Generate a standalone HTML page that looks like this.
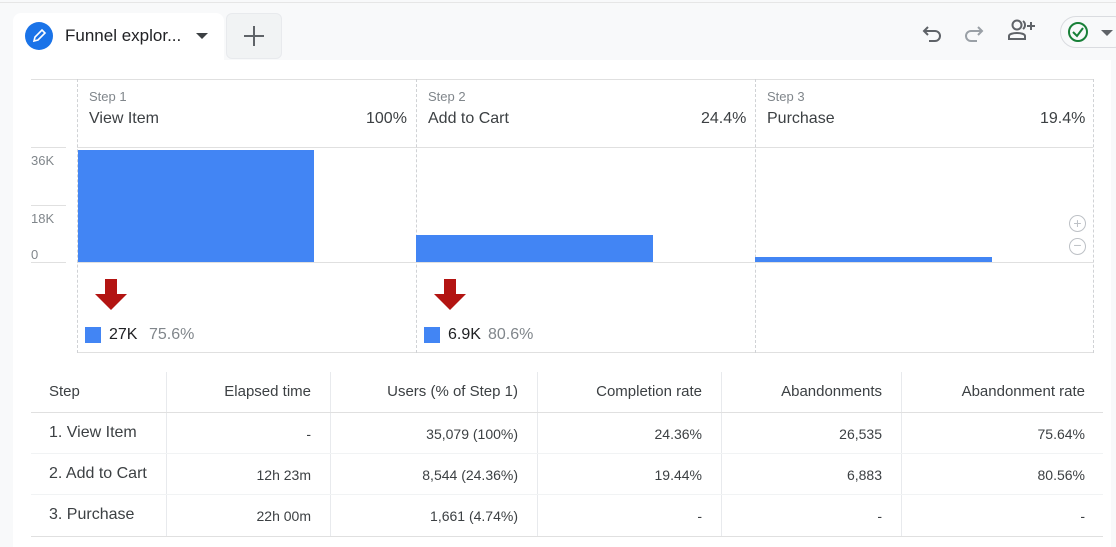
<!DOCTYPE html>
<html><head><meta charset="utf-8"><style>
*{margin:0;padding:0;box-sizing:border-box}
body{width:1116px;height:547px;background:#f8f9fa;font-family:"Liberation Sans",Roboto,sans-serif;position:relative;overflow:hidden;color:#202124}
.a{position:absolute}
.t{font-size:16px;color:#3c4043;white-space:nowrap}
.g{color:#80868b}
.vd{position:absolute;width:0;border-left:1px dashed #d0d2d5}
.h{position:absolute;height:0;border-top:1px solid #e0e0e0}
.cell{position:absolute;font-size:15px;color:#3c4043;white-space:nowrap}
.vl{position:absolute;width:1px;background:#e8eaed}
</style></head><body>
<div class="a" style="left:0;top:2px;width:1116px;height:1px;background:#e6e6e6"></div>
<!-- tab -->
<div class="a" style="left:13px;top:13px;width:211px;height:50px;background:#fff;border-radius:8px 8px 0 0"></div>
<div class="a" style="left:25px;top:22px;width:28px;height:28px;border-radius:50%;background:#1a73e8"></div>
<svg class="a" style="left:30px;top:27px" width="18" height="18" viewBox="0 0 18 18"><path d="M4 14 L5 10 L12 3 L15 6 L8 13 Z" fill="none" stroke="#fff" stroke-width="1.6"/></svg>
<div class="a t" style="left:65px;top:26px;font-size:17px;color:#202124">Funnel explor...</div>
<div class="a" style="left:196px;top:33px;border-left:6px solid transparent;border-right:6px solid transparent;border-top:6px solid #3c4043"></div>
<div class="a" style="left:226px;top:13px;width:56px;height:46px;background:#f1f3f4;border-radius:6px;border:1px solid #e8eaed"></div>
<div class="a" style="left:244px;top:35px;width:20px;height:2px;background:#5f6368"></div>
<div class="a" style="left:253px;top:26px;width:2px;height:20px;background:#5f6368"></div>
<!-- right icons -->
<svg class="a" style="left:922px;top:22px" width="22" height="22" viewBox="0 0 22 22"><path d="M6 5 L2 9 L6 13 M2 9 H13 A5 5 0 0 1 13 19 H7" fill="none" stroke="#5f6368" stroke-width="2"/></svg>
<svg class="a" style="left:962px;top:22px" width="22" height="22" viewBox="0 0 22 22"><path d="M16 5 L20 9 L16 13 M20 9 H9 A5 5 0 0 0 9 19 H15" fill="none" stroke="#9aa0a6" stroke-width="2"/></svg>
<svg class="a" style="left:1007px;top:18px" width="30" height="24" viewBox="0 0 30 24"><circle cx="10" cy="7" r="4.5" fill="none" stroke="#5f6368" stroke-width="2"/><path d="M2 21 V18 C2 14 18 14 18 18 V21 Z" fill="none" stroke="#5f6368" stroke-width="2"/><path d="M16 3 A5 5 0 0 1 16 11" fill="none" stroke="#5f6368" stroke-width="2"/><path d="M24 4 V12 M20 8 H28" stroke="#5f6368" stroke-width="2"/></svg>
<div class="a" style="left:1060px;top:16px;width:70px;height:32px;border-radius:16px;border:1px solid #dadce0;background:#f8f9fa"></div>
<div class="a" style="left:1068px;top:22px;width:20px;height:20px;border-radius:50%;border:2px solid #188038"></div>
<svg class="a" style="left:1068px;top:22px" width="20" height="20"><path d="M5 10 L9 14 L15 6" fill="none" stroke="#188038" stroke-width="2"/></svg>
<div class="a" style="left:1101px;top:30px;border-left:6px solid transparent;border-right:6px solid transparent;border-top:6px solid #5f6368"></div>
<!-- panel -->
<div class="a" style="left:13px;top:60px;width:1098px;height:487px;background:#fff"></div>
<!-- chart lines -->
<div class="h" style="left:31px;top:79px;width:1062px"></div>
<div class="h" style="left:77px;top:147px;width:1016px"></div>
<div class="h" style="left:31px;top:147px;width:35px"></div>
<div class="h" style="left:31px;top:205px;width:35px"></div>
<div class="h" style="left:31px;top:262px;width:35px"></div>
<div class="h" style="left:77px;top:262px;width:1016px"></div>
<div class="h" style="left:77px;top:352px;width:1016px"></div>
<div class="vd" style="left:77px;top:79px;height:274px"></div>
<div class="vd" style="left:416px;top:79px;height:274px"></div>
<div class="vd" style="left:755px;top:79px;height:274px"></div>
<div class="vd" style="left:1093px;top:79px;height:274px"></div>
<div class="a g" style="left:31px;top:153px;font-size:13px">36K</div>
<div class="a g" style="left:31px;top:211px;font-size:13px">18K</div>
<div class="a g" style="left:31px;top:247px;font-size:13px">0</div>
<!-- headers -->
<div class="a g" style="left:89px;top:89px;font-size:13px">Step 1</div>
<div class="a t" style="left:89px;top:110px">View Item</div>
<div class="a t" style="left:366px;top:110px">100%</div>
<div class="a g" style="left:428px;top:89px;font-size:13px">Step 2</div>
<div class="a t" style="left:428px;top:110px">Add to Cart</div>
<div class="a t" style="left:701px;top:110px">24.4%</div>
<div class="a g" style="left:767px;top:89px;font-size:13px">Step 3</div>
<div class="a t" style="left:767px;top:110px">Purchase</div>
<div class="a t" style="left:1040px;top:110px">19.4%</div>
<!-- bars -->
<div class="a" style="left:78px;top:150px;width:236px;height:112px;background:#4285f4"></div>
<div class="a" style="left:416px;top:235px;width:237px;height:27px;background:#4285f4"></div>
<div class="a" style="left:755px;top:257px;width:237px;height:5px;background:#4285f4"></div>
<!-- zoom icons -->
<div class="a" style="left:1069px;top:215px;width:17px;height:17px;border-radius:50%;border:1.5px solid #bdc1c6;color:#bdc1c6;font-size:14px;line-height:14px;text-align:center">+</div>
<div class="a" style="left:1069px;top:238px;width:17px;height:17px;border-radius:50%;border:1.5px solid #bdc1c6;color:#bdc1c6;font-size:14px;line-height:13px;text-align:center">−</div>
<!-- arrows -->
<svg class="a" style="left:95px;top:279px" width="32" height="32"><path d="M10 0 H22 V15 H32 L16 31 L0 15 H10 Z" fill="#b31412"/></svg>
<svg class="a" style="left:434px;top:279px" width="32" height="32"><path d="M10 0 H22 V15 H32 L16 31 L0 15 H10 Z" fill="#b31412"/></svg>
<div class="a" style="left:85px;top:327px;width:16px;height:16px;background:#4285f4"></div>
<div class="a t" style="left:109px;top:326px;color:#202124">27K</div>
<div class="a t g" style="left:149px;top:326px;color:#80868b">75.6%</div>
<div class="a" style="left:424px;top:327px;width:16px;height:16px;background:#4285f4"></div>
<div class="a t" style="left:448px;top:326px;color:#202124">6.9K</div>
<div class="a t g" style="left:488px;top:326px;color:#80868b">80.6%</div>
<!-- table -->
<div class="vl" style="left:166px;top:372px;height:164px"></div>
<div class="vl" style="left:330px;top:372px;height:164px"></div>
<div class="vl" style="left:537px;top:372px;height:164px"></div>
<div class="vl" style="left:721px;top:372px;height:164px"></div>
<div class="vl" style="left:901px;top:372px;height:164px"></div>
<div class="h" style="left:31px;top:412px;width:1072px"></div>
<div class="h" style="left:31px;top:453px;width:1072px;border-color:#f1f3f4"></div>
<div class="h" style="left:31px;top:494px;width:1072px;border-color:#f1f3f4"></div>
<div class="h" style="left:31px;top:536px;width:1072px"></div>
<div class="cell g" style="left:49px;top:383px">Step</div>
<div class="cell g" style="right:805px;top:383px">Elapsed time</div>
<div class="cell g" style="right:598px;top:383px">Users (% of Step 1)</div>
<div class="cell g" style="right:414px;top:383px">Completion rate</div>
<div class="cell g" style="right:234px;top:383px">Abandonments</div>
<div class="cell g" style="right:31px;top:383px">Abandonment rate</div>

<div class="cell" style="left:49px;top:424px;font-size:16px">1. View Item</div>
<div class="cell" style="right:805px;top:426px;font-size:14px">-</div>
<div class="cell" style="right:598px;top:426px;font-size:14px">35,079 (100%)</div>
<div class="cell" style="right:414px;top:426px;font-size:14px">24.36%</div>
<div class="cell" style="right:234px;top:426px;font-size:14px">26,535</div>
<div class="cell" style="right:31px;top:426px;font-size:14px">75.64%</div>

<div class="cell" style="left:49px;top:465px;font-size:16px">2. Add to Cart</div>
<div class="cell" style="right:805px;top:467px;font-size:14px">12h 23m</div>
<div class="cell" style="right:598px;top:467px;font-size:14px">8,544 (24.36%)</div>
<div class="cell" style="right:414px;top:467px;font-size:14px">19.44%</div>
<div class="cell" style="right:234px;top:467px;font-size:14px">6,883</div>
<div class="cell" style="right:31px;top:467px;font-size:14px">80.56%</div>

<div class="cell" style="left:49px;top:506px;font-size:16px">3. Purchase</div>
<div class="cell" style="right:805px;top:508px;font-size:14px">22h 00m</div>
<div class="cell" style="right:598px;top:508px;font-size:14px">1,661 (4.74%)</div>
<div class="cell" style="right:414px;top:508px;font-size:14px">-</div>
<div class="cell" style="right:234px;top:508px;font-size:14px">-</div>
<div class="cell" style="right:31px;top:508px;font-size:14px">-</div>
</body></html>
